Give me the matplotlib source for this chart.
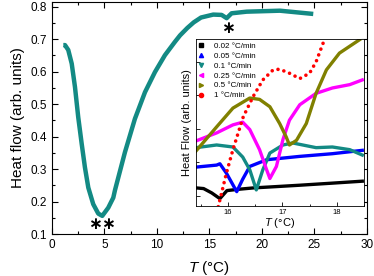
"""Heat flow vs temperature with cooling-rate inset."""

import matplotlib

matplotlib.use("Agg")

import matplotlib.pyplot as plt
from matplotlib.lines import Line2D
from matplotlib.ticker import MultipleLocator

# main curve: heat flow (arb. units) vs T (deg C)
main_t = [1.08, 1.24, 1.55, 1.88, 2.19, 2.50, 2.83, 3.14, 3.46, 3.93, 4.41,
          4.79, 5.36, 5.84, 6.0, 6.95, 7.90, 8.86, 9.81, 10.76, 11.71, 12.2,
          12.9, 13.5, 14.2, 15.36, 16.16, 16.64, 17.11, 18.54, 21.71, 24.89]
main_hf = [0.682, 0.682, 0.667, 0.625, 0.553, 0.460, 0.378, 0.305, 0.243,
           0.192, 0.163, 0.156, 0.181, 0.212, 0.235, 0.352, 0.455, 0.537,
           0.599, 0.651, 0.692, 0.712, 0.735, 0.752, 0.767, 0.776, 0.775,
           0.765, 0.780, 0.785, 0.788, 0.778]

# inset curves (arbitrary vertical units)
rates = ["0.02 °C/min", "0.05 °C/min", "0.1 °C/min", "0.25 °C/min",
         "0.5 °C/min", "1 °C/min"]
colors = ["black", "#0000ff", "#138a84", "#ff00ff", "#808000", "#ff0000"]
markers = ["s", "^", "v", "<", ">", "o"]

t_002 = [15.41, 15.55, 15.70, 15.85, 15.98, 16.2, 16.47, 16.9, 17.32, 17.9, 18.47]
hf_002 = [0.12, 0.11, 0.045, -0.04, 0.08, 0.1, 0.12, 0.14, 0.16, 0.19, 0.22]

t_005 = [15.41, 15.79, 15.85, 15.97, 16.16, 16.27, 16.40, 16.71, 17.32, 17.92, 18.47]
hf_005 = [0.43, 0.46, 0.48, 0.34, 0.064, 0.25, 0.44, 0.54, 0.59, 0.63, 0.68]

t_01 = [15.41, 15.79, 16.09, 16.27, 16.40, 16.52, 16.64, 16.77, 17.01, 17.19,
        17.62, 17.92, 18.24, 18.47]
hf_01 = [0.72, 0.76, 0.73, 0.58, 0.39, 0.09, 0.39, 0.64, 0.76, 0.79,
         0.72, 0.73, 0.69, 0.61]

t_025 = [15.41, 15.79, 16.09, 16.27, 16.40, 16.58, 16.71, 16.77, 16.89, 17.01,
         17.13, 17.32, 17.62, 17.92, 18.24, 18.47]
hf_025 = [0.82, 0.94, 1.06, 1.10, 0.99, 0.69, 0.39, 0.26, 0.44, 0.84,
          1.13, 1.36, 1.53, 1.61, 1.66, 1.73]

t_05 = [15.41, 15.79, 16.09, 16.40, 16.58, 16.77, 16.95, 17.07, 17.13, 17.26,
        17.44, 17.62, 17.81, 18.05, 18.42]
hf_05 = [0.67, 1.03, 1.31, 1.46, 1.44, 1.33, 1.08, 0.88, 0.76, 0.83,
         1.08, 1.53, 1.88, 2.13, 2.33]

t_1 = [15.82, 15.97, 16.09, 16.28, 16.46, 16.64, 16.83, 16.95, 17.13, 17.32,
       17.50, 17.62, 17.75]
hf_1 = [-0.16, 0.34, 0.69, 1.18, 1.48, 1.73, 1.88, 1.89, 1.83, 1.75,
        1.83, 2.00, 2.28]

TEAL = "#138a84"

plt.rcParams.update({
    "font.family": "Liberation Sans",
    "mathtext.fontset": "custom",
    "mathtext.it": "Liberation Sans:italic",
    "mathtext.rm": "Liberation Sans",
})

fig = plt.figure(figsize=(3.74, 2.76), dpi=100)
ax = fig.add_axes([0.139, 0.152, 0.842, 0.841])

ax.plot(main_t, main_hf, color=TEAL, lw=3.2, solid_capstyle="butt",
        solid_joinstyle="round")
ax.set_xlim(0, 30)
ax.set_ylim(0.1, 0.815)
ax.xaxis.set_major_locator(MultipleLocator(5))
ax.xaxis.set_minor_locator(MultipleLocator(2.5))
ax.yaxis.set_major_locator(MultipleLocator(0.1))
ax.yaxis.set_minor_locator(MultipleLocator(0.05))
ax.tick_params(which="both", direction="in", top=True, right=True,
               labelsize=8.5, width=0.8)
ax.tick_params(which="major", length=4)
ax.tick_params(which="minor", length=2.5)
ax.set_yticks([0.1, 0.2, 0.3, 0.4, 0.5, 0.6, 0.7, 0.8])
ax.set_xlabel("$T$ (°C)", fontsize=11, labelpad=6)
ax.set_ylabel("Heat flow (arb. units)", fontsize=11, labelpad=4)

for sx, sy in [(16.8, 0.734), (4.1, 0.132), (5.36, 0.132)]:
    ax.text(sx, sy, "∗", fontsize=12, ha="center", va="center",
            family="DejaVu Sans", fontweight="bold")

ins = fig.add_axes([0.524, 0.2536, 0.449, 0.605])
series = [(t_002, hf_002), (t_005, hf_005), (t_01, hf_01),
          (t_025, hf_025), (t_05, hf_05)]
for (tt, hh), c in zip(series, colors[:5]):
    ins.plot(tt, hh, color=c, lw=2.4, solid_joinstyle="round")
ins.plot(t_1, hf_1, color=colors[5], lw=2.6, ls=(0, (0.01, 1.7)),
         dash_capstyle="round")
ins.set_xlim(15.41, 18.5)
ins.set_ylim(-0.15, 2.34)
ins.xaxis.set_major_locator(MultipleLocator(1))
ins.xaxis.set_minor_locator(MultipleLocator(0.5))
ins.yaxis.set_major_locator(MultipleLocator(1))
ins.yaxis.set_minor_locator(MultipleLocator(0.5))
ins.tick_params(which="both", direction="in", labelsize=5.5, width=0.6,
                labelleft=False, pad=2)
ins.tick_params(which="major", length=3)
ins.tick_params(which="minor", length=1.8)
ins.set_xlabel("$T$ (°C)", fontsize=8, labelpad=0)
ins.set_ylabel("Heat Flow (arb. units)", fontsize=8, labelpad=3)
for s in ins.spines.values():
    s.set_linewidth(0.6)

handles = [Line2D([], [], ls="none", marker=m, color=c, ms=3)
           for m, c in zip(markers, colors)]
ins.legend(handles, rates, loc="upper left", fontsize=5.8, frameon=False,
           handlelength=0.4, handletextpad=1.4, labelspacing=0.28,
           borderaxespad=0.2, borderpad=0.2)

fig.savefig("out.png", dpi=100)
